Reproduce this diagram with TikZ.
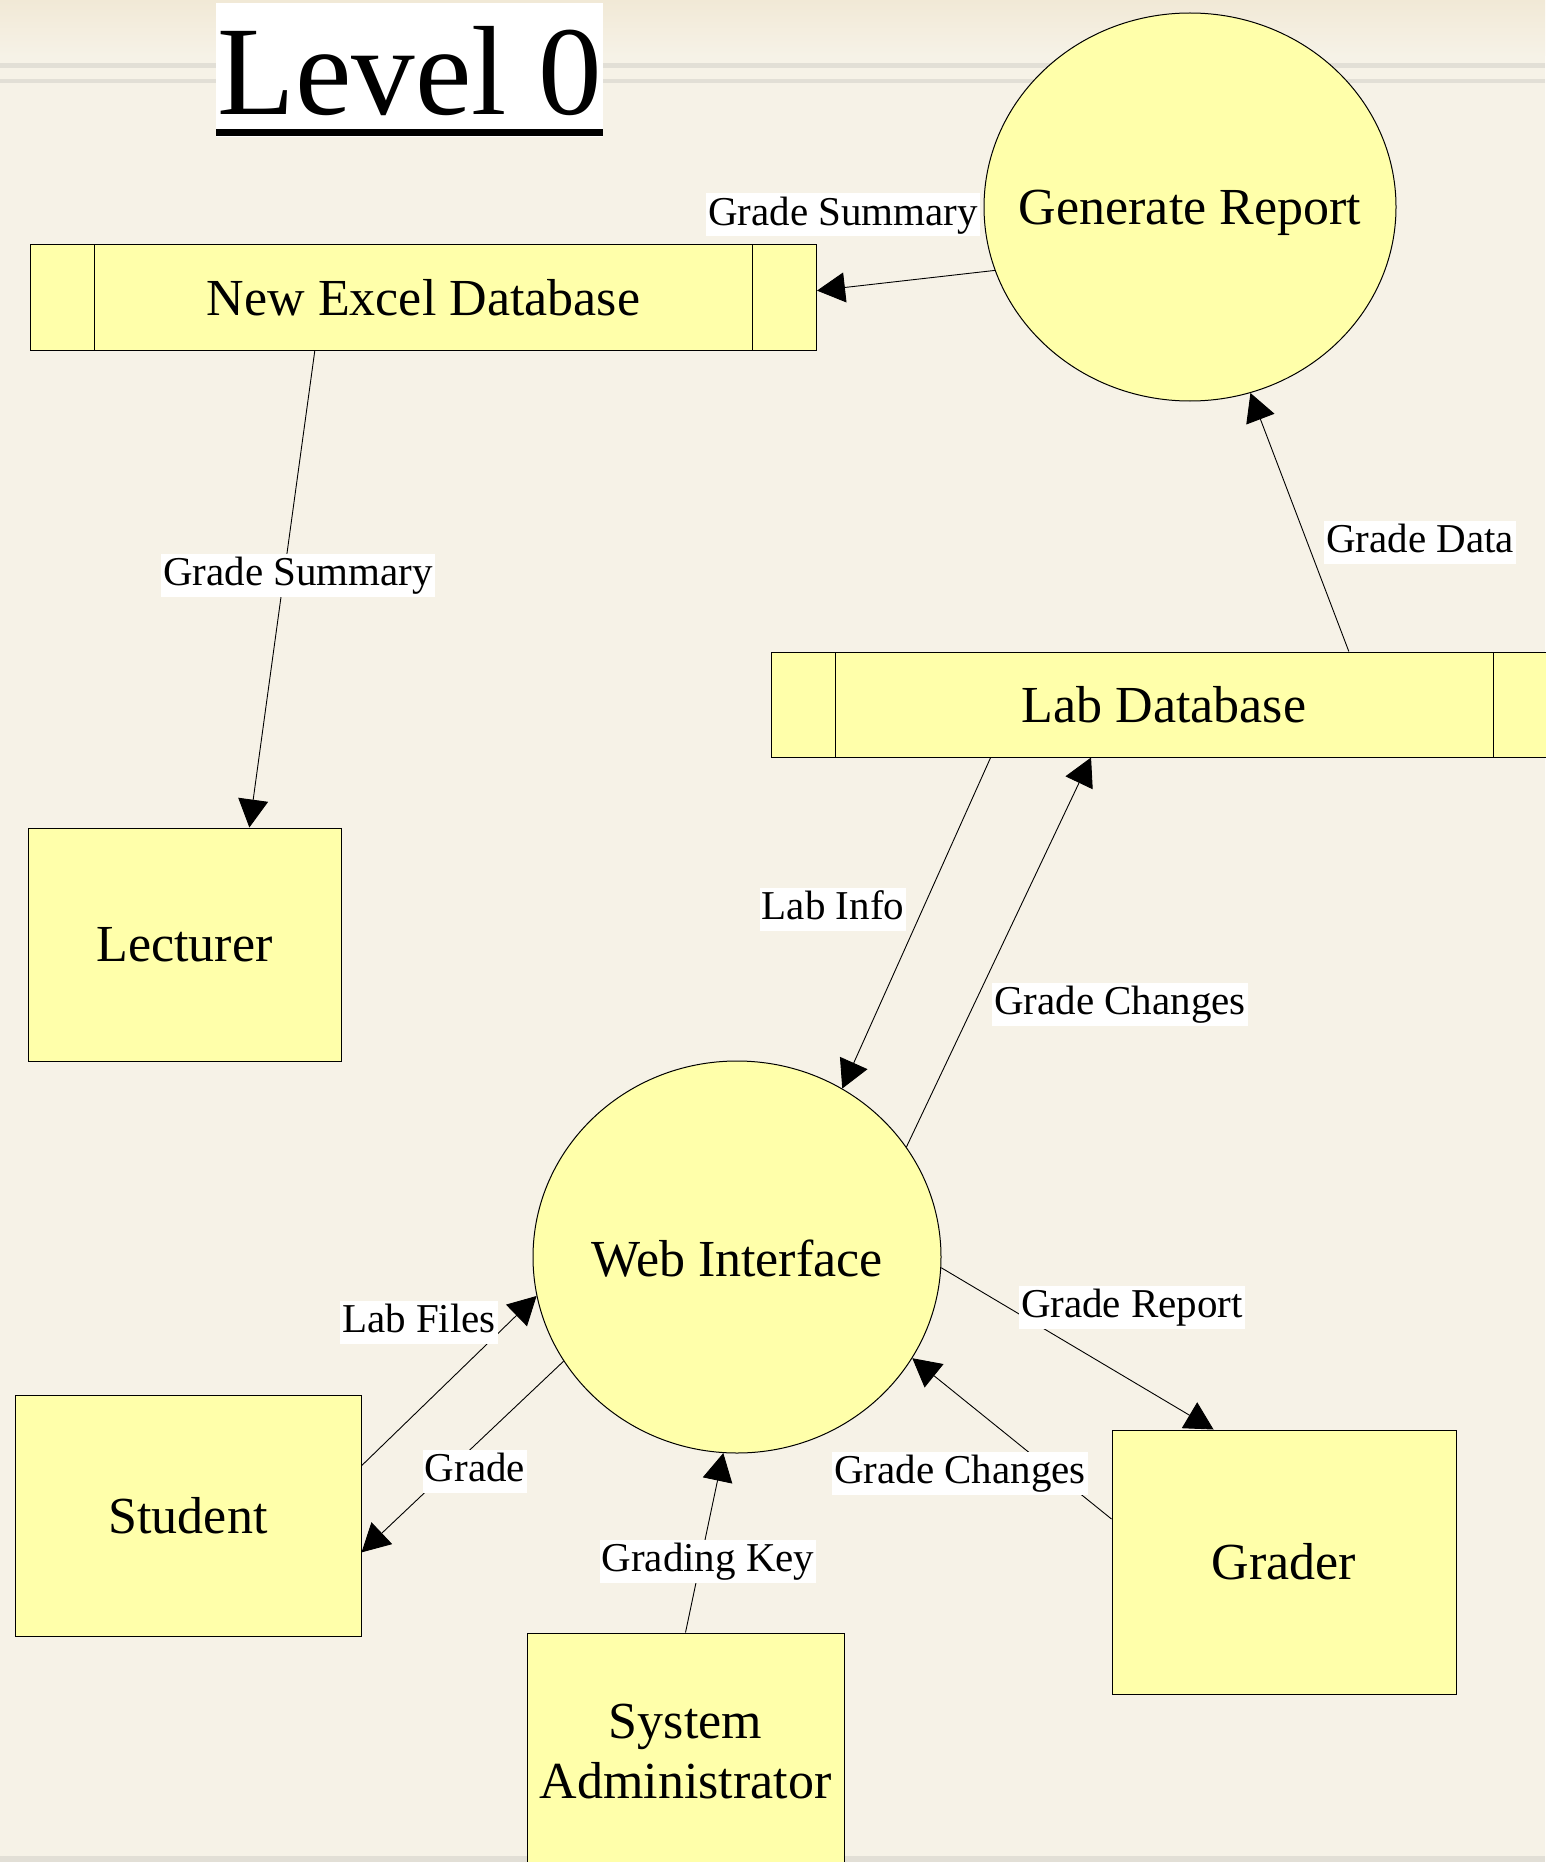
\documentclass[tikz,border=0pt]{standalone}
\usepackage{fontspec}
\setmainfont{Liberation Serif}
\usetikzlibrary{shapes.geometric, arrows.meta}

\definecolor{paper}{RGB}{246,242,231}
\definecolor{paperdark}{RGB}{241,233,214}
\definecolor{rule}{RGB}{226,223,214}
\definecolor{note}{RGB}{255,255,170}

\tikzset{
	entity/.style = {draw, fill = note, line width = 1pt, font = \fontsize{52}{60}\selectfont, align = center, inner sep = 0pt},
	process/.style = {entity, ellipse},
	store/.style = {entity, minimum width = 786pt, minimum height = 105pt,
		path picture = {
			\draw [line width = 1pt] ([xshift = 64pt] path picture bounding box.north west) -- ([xshift = 64pt] path picture bounding box.south west);
			\draw [line width = 1pt] ([xshift = -64pt] path picture bounding box.north east) -- ([xshift = -64pt] path picture bounding box.south east);
		}},
	caption/.style = {inner sep = 0pt, font = \fontsize{52}{60}\selectfont},
	flow/.style = {->, line width = 0.9pt},
	flowlabel/.style = {fill = white, inner sep = 2pt, text height = 30pt, text depth = 9pt, font = \fontsize{41}{41}\selectfont}
}

\begin{document}
\begin{tikzpicture}[x = 1pt, y = -1pt, > = {Triangle[length = 28pt, width = 30pt]}]

	\useasboundingbox (0, 0) rectangle (1545, 1862);

	% Paper
	
	\fill [paper] (0, 0) rectangle (1545, 1862);
	\shade [top color = paperdark, bottom color = paper] (0, 0) rectangle (1545, 56);
	\fill [rule] (0, 63) rectangle (1545, 68);
	\fill [rule] (0, 79) rectangle (1545, 83);
	\fill [rule] (0, 1856) rectangle (1545, 1862);
	
	% Title
	
	\fill [white] (216, 3) rectangle (603, 137);
	\node [anchor = base, inner sep = 0pt, font = \fontsize{127}{127}\selectfont] (title) at (410, 115) {Level 0};
	\fill (216, 129) rectangle (603, 136);
	
	% Processes
	
	\node [process, minimum width = 412pt, minimum height = 388pt] (genrep) at (1190, 207) {};
	\node [caption] (genrep-text) at (1190, 213) {Generate Report};
	\node [process, minimum width = 408pt, minimum height = 392pt] (webint) at (737, 1257) {};
	\node [caption] (webint-text) at (737, 1259) {Web Interface};
	
	% Stores
	
	\node [store] (excel) at (423.5, 297.5) {New Excel Database};
	\node [store] (labdb) at (1164, 704.5) {Lab Database};
	
	% Entities
	
	\node [entity, minimum width = 313pt, minimum height = 233pt] (lecturer) at (184.5, 944.5) {Lecturer};
	\node [entity, minimum width = 346pt, minimum height = 241pt] (student) at (188, 1515.5) {Student};
	\node [entity, minimum width = 317pt, minimum height = 237pt] (sysadmin) at (685.5, 1751.5) {System\\Administrator};
	\node [entity, minimum width = 344pt, minimum height = 264pt] (grader) at (1284, 1562) {Grader};
	
	% Flows
	
	\draw [flow] (genrep.198.4) -- (excel.1.1);
	\draw [flow] (excel.206) -- (lecturer.61.2);
	\draw [flow] (labdb.16.6) -- (genrep.288.3);
	\draw [flow] (labdb.197.6) -- (webint.58.4);
	\draw [flow] (webint.33.1) -- (labdb.216.1);
	\draw [flow] (student.16.8) -- (webint.191.9);
	\draw [flow] (webint.211.5) -- (student.348.8);
	\draw [flow] (sysadmin.90.7) -- (webint.266.2);
	\draw [flow] (webint.357.5) -- (grader.118.9);
	\draw [flow] (grader.166.3) -- (webint.330.4);
	
	% Flow labels
	
	\node [flowlabel] (sum-top) at (843, 215) {Grade Summary};
	\node [flowlabel] (sum-left) at (298, 575) {Grade Summary};
	\node [flowlabel] (data) at (1420, 542) {Grade Data};
	\node [flowlabel] (info) at (833, 909) {Lab Info};
	\node [flowlabel] (changes-up) at (1120, 1004) {Grade Changes};
	\node [flowlabel] (files) at (419, 1322) {Lab Files};
	\node [flowlabel] (grade) at (475, 1471) {Grade};
	\node [flowlabel] (key) at (708, 1561) {Grading Key};
	\node [flowlabel] (report) at (1132, 1307) {Grade Report};
	\node [flowlabel] (changes-down) at (960, 1473) {Grade Changes};
	
\end{tikzpicture}
\end{document}
